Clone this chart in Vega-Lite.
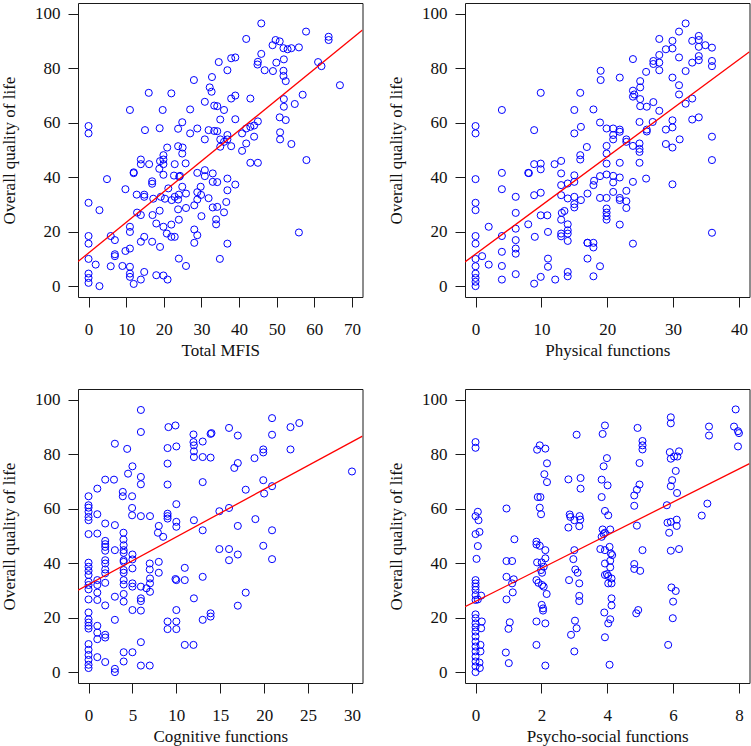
{
"$schema": "https://vega.github.io/schema/vega-lite/v6.json",
"autosize": {"type": "none"},
"padding": {"left": 78, "top": 3, "right": 673, "bottom": 743},
"background": "white",
"columns": 2,
"spacing": {"row": 92, "column": 102},
"bounds": "flush",
"config": {
  "view": {"stroke": "#1a1a1a", "strokeWidth": 1},
  "axis": {"domain": false, "grid": false, "tickColor": "#1a1a1a", "tickSize": 10, "tickWidth": 1,
    "labelFont": "Liberation Serif", "labelFontSize": 17, "labelColor": "#111111", "labelPadding": 8,
    "labelOverlap": false, "labelFlush": false,
    "titleFont": "Liberation Serif", "titleFontSize": 17, "titleFontWeight": "normal", "titleColor": "#111111"},
  "axisX": {"labelPadding": 14, "titlePadding": 5},
  "axisY": {"labelAngle": 0, "titlePadding": 16},
  "point": {"opacity": 1}
},
"datasets": {
  "tl": [[0,58.8],[0,56.1],[28,75.7],[32.8,76.8],[32.2,73],[32.7,71.4],[16,71],[22,70.8],[11,64.7],[19.7,64.7],[27,64.9],[33.4,66.3],[30.9,67.7],[24.9,60.2],[15,57.3],[18.9,58],[23.8,57.8],[28.9,57.9],[27,56.1],[31.9,57.3],[33.4,57],[30.9,53.9],[20.9,50.9],[23.8,51.4],[25,50.9],[24.9,48.7],[19.9,48.1],[19.9,46.5],[19,45.9],[19.9,44.8],[13.9,46.5],[13.9,44.8],[16.1,44.8],[12,41.5],[12,41.8],[22.9,44.8],[25.8,45.1],[18.8,43.1],[19.9,40.9],[22.7,40.6],[24.1,40.2],[24.3,40.5],[28.9,41.6],[30.9,42.6],[30.9,40.4],[33,41.4],[4.9,39.3],[16.9,38.5],[16.9,37.6],[9.8,35.6],[21.2,35.9],[24.9,36.5],[29.8,36.5],[33,38.3],[12.8,33.6],[14.8,33.6],[14.8,32.8],[17.2,32.1],[19.2,32.8],[20.3,32.1],[22.9,32.8],[24,33.6],[25.9,34],[23.8,31.8],[22.1,31.6],[28.9,34.5],[29.9,33.5],[28.9,31.8],[31.9,32.3],[0,30.6],[2.9,27.9],[12.9,27],[13.9,26.1],[18.9,27.7],[17,26.1],[23.8,28.2],[25.9,28.7],[28.1,29.7],[30,25.7],[33,28.9],[11,21.8],[11,19.9],[18,23],[19.9,21.8],[22,22.6],[24,24.4],[20.8,19.3],[22,18.1],[22.9,18.1],[0,18.4],[0,15.6],[5.9,18.4],[7,16.9],[14.8,18.1],[13.9,16.3],[16.9,16.3],[19,14.4],[28.1,20.8],[28.9,18.7],[28.1,15.9],[9.8,12.9],[11,13.8],[7,11.7],[7,11],[0,10],[1.9,7.9],[5.9,7.3],[9,7.4],[11,7.1],[11,4.6],[11,3.4],[12,0.8],[13.9,2.4],[14.8,5.2],[18,4],[19.9,3.9],[21,2.4],[24,10.1],[25.9,7.4],[0,4.6],[0,3],[0,1.2],[2.9,0],
    [45.9,96.5],[41.9,90.8],[57.8,93.5],[63.8,91.6],[63.8,90.4],[49.7,90.4],[50.8,89.9],[48.9,88.5],[51.8,87.4],[52.9,87],[53.9,87.4],[55.9,87.7],[37.9,83.7],[39,84],[34.6,82.3],[45.9,85.3],[45,82.4],[44.9,81.4],[49.9,82.1],[51.9,83.3],[36.9,79.3],[46.8,79.3],[49,79],[51.8,79.1],[51.8,77.2],[52.4,75.3],[61,82.3],[61.9,80.8],[66.8,73.8],[37.9,68.9],[39,70],[43,68.9],[34.2,66.1],[36,64.7],[35,61.2],[39,61.3],[51.9,68.7],[51.9,65.9],[54.8,66.9],[56.9,70.3],[50.8,62],[52.4,61],[34.2,56.9],[35,53.9],[36.9,55.5],[35,51.2],[36.9,53.9],[37.9,51.4],[36,53],[40.8,56.1],[41.9,57.9],[43,58.5],[44,59],[45,60.5],[44,54.9],[41.9,52.4],[40.8,49.7],[50.9,56.5],[50.9,53.9],[53.9,52.2],[43,45.3],[45,45.3],[57.9,46.3],[34.2,38.2],[36.9,39.5],[36.9,35.2],[39,37.3],[34.2,29.1],[36,27.1],[36.6,30.9],[33.9,24.5],[33.9,22.7],[36.9,15.6],[34.9,10],[55.9,19.7]],
  "tr": [[0,58.8],[0,56.1],[0,39.3],[0,30.6],[0,27.9],[0,18.4],[0,15.6],[0,10],[1,11],[0,7.3],[0,4.6],[0,3],[0,1.6],[0,0],[2,21.8],[2,7.9],[4,64.7],[4,41.6],[4,35.6],[4,18.4],[4,12.6],[4,7.4],[4,2.4],[6.1,32.8],[6.1,26.9],[6.1,21.1],[6.1,16.9],[6.1,13.8],[6.1,11.9],[6.1,4.4],[8,41.6],[8.1,41.5],[8,22.7],[8.9,57.3],[8.9,44.8],[8.9,33.4],[9,18.1],[8.9,0.9],[9.9,71],[9.9,45],[9.9,42.9],[9.9,34.3],[9.9,26],[10.9,26],[11,19.9],[11,10.1],[11,7.1],[9.9,3.4],[12,44.8],[12.1,2.4],[13,46],[13,41.4],[13,37.1],[13,33.4],[13.1,26.9],[13,24.4],[13,19.3],[13,18.3],[14,16.6],[13.5,27.6],[14,37.7],[14,32.2],[14,22.7],[14,20.5],[14,19.3],[14,5.2],[14,3.6],[15,64.7],[15,56.1],[15,40.7],[15,38.3],[15,32.8],[15,30.1],[15,28.9],[16,58.5],[15.9,71],[15.9,48.1],[15.9,46.5],[16,31.6],[16.9,51.1],[17,34],[17,15.9],[17,10.1],
    [31.9,96.5],[30.9,93.5],[27.9,90.8],[29.9,90.1],[29.9,87.3],[28.9,87],[32.9,90.1],[33.9,91.9],[33.9,90.4],[33.9,87.9],[34.9,88.5],[35.9,87.6],[27.9,84.9],[27,82.7],[27,81.6],[27.9,82.1],[30.9,84],[33.9,84.5],[33.9,83],[32.9,82.1],[35.9,82.7],[35.9,80.8],[23.9,83.4],[19,79.1],[19,75.7],[21.9,76.6],[25.9,78.7],[27.9,79.3],[31.9,79],[25,75.3],[25,73],[23.9,71.8],[23.9,69.6],[24.1,70.4],[25,68.7],[25,66.1],[26,65.9],[27,67.6],[29.9,76.6],[30.9,73.8],[30.9,70.4],[31.9,67],[32.9,68.9],[27.9,64.4],[17.9,64.9],[18.9,60.1],[19.9,57.9],[20.9,57.9],[21.9,57.5],[20.9,55.5],[20.9,53.9],[21.9,56.7],[22.9,53.9],[22.9,53],[24.9,60.3],[26,57.5],[26,56.8],[26.9,60.3],[28.9,57.5],[29.9,60.9],[29.9,58.3],[28.9,52.2],[29.9,50.9],[31,53.9],[32.9,61.2],[33.9,62],[35.9,54.9],[35.9,46.3],[35.9,19.6],[19.9,51.5],[19.9,48.7],[23.9,51.5],[24.9,52.4],[24.9,50.4],[24.9,49.3],[19.9,45],[21.9,45.3],[24.9,45.3],[18.9,40.4],[19.9,41],[20.9,40.5],[21.9,39.9],[20.9,38.1],[18,38.7],[17.9,37.1],[23.9,38.3],[25.9,39.5],[29.9,37.4],[20.9,34.6],[22.9,35],[18.9,32.4],[19.9,32.4],[21.9,32.4],[21.9,31.6],[22.9,31.2],[22.9,28.7],[19.9,28.5],[19.9,27],[19.9,25.7],[19.9,24.4],[21.9,22.6],[17,15.9],[17.9,15.9],[17.9,14.2],[23.9,15.6],[18.9,7.3],[17.9,3.6]],
  "bl": [[5.96,96.3],[5.96,88.2],[9.1,90],[9.9,90.6],[3,83.9],[4.4,82],[9,82.3],[10,82.9],[11.95,87.3],[11.95,84.5],[12,83.3],[12,81.1],[12,79],[13,84.7],[13.9,87.5],[13,79],[13.9,78.8],[9,76.6],[5,75.6],[4.5,72.9],[5.96,71.7],[5.96,69],[9,68.9],[13,69.8],[1,67.4],[1.9,70.7],[2.9,70.7],[0,64.6],[0,61.3],[0,60.4],[0,58.9],[0,57],[0,55.8],[1,58],[3.9,66.2],[3.9,64.6],[4.96,64.6],[4.96,60.3],[4.96,57.6],[5.96,57.3],[7,57.3],[10,61.7],[9,58.2],[9,57.3],[9,56.4],[10,55.2],[10,53.4],[12,55.8],[13,52.1],[1.9,54.6],[3,54],[8,53.7],[7.9,51.2],[8.5,49.7],[0,50.7],[1,50.9],[1.9,48.2],[1.9,47],[1.9,46],[1.9,44.6],[3,44.8],[3.98,51.2],[3.98,48.7],[4,46.6],[4,44.8],[4,43.8],[5,43.2],[5,41.4],[0,40.2],[0,38.7],[0,37.2],[0,35.7],[1.9,41.1],[1.9,39.9],[1.9,37.7],[1.9,36.3],[4,41.1],[4,40.5],[4,37.5],[4,36.5],[5,38.1],[6.97,39.9],[6.97,37.7],[8,40.5],[8,36.5],[10.96,38.3],[9.9,34.2],[10,33.8],[10.96,33.8],[13,35],[0,33.2],[0,32],[0,30.4],[1,33.8],[1,32],[1.9,32.8],[4,33.8],[4,32.2],[5,32.6],[5,31.4],[5.96,31.4],[6.6,30.8],[7,34.4],[7,32.6],[7,29.5],[0,26.7],[1,29.2],[1,26.5],[1.9,24.5],[3,27.7],[4,28.7],[4,25.9],[5.96,27.1],[5.96,26.1],[5,22.8],[5.96,22.6],[10,22.8],[12,27.1],[0,21.9],[0,19.4],[0,18.2],[0,17],[0,16],[1,17],[1,14.5],[1,12.1],[1.9,13.7],[1.9,12.7],[3,19.2],[9,18.6],[9,15.8],[10,18.6],[10,15.8],[13,19.2],[13.9,20.4],[13.9,21.6],[10.96,10],[11.95,10],[5.96,11],[0,10.3],[0,8.2],[0,6.3],[0,4.5],[0,2.7],[0,1.5],[1,5.5],[1.9,3.7],[3,1.2],[3,0],[4,7.3],[4,3.9],[5,7.3],[5.96,2.4],[6.97,2.4],
    [20.9,93.3],[23,90],[24,91.5],[16,89.7],[14,87.8],[17,86.9],[20.9,87.2],[19.9,81.8],[19.9,80.7],[18.9,78.6],[23,81.8],[17,76.8],[16.6,75],[30,73.7],[19.9,70.5],[20.9,68.3],[20,65.6],[17.9,67],[14.9,59.1],[16,60.3],[17,53.7],[19,56.2],[20.9,52.1],[14.9,45.2],[16,45.2],[16,41.1],[17,43.2],[19.9,46.4],[20.9,41.5],[17.9,29.2],[17,24.4]],
  "br": [[0,84.5],[0,82.4],[0.07,58.9],[0,57.3],[0.09,55.8],[0,50.7],[0.12,51.5],[0.07,46.3],[0.03,41.6],[0,33.8],[0,32.6],[0,31.4],[0,30.2],[0,28.3],[0,26.5],[0.17,28.1],[0.07,26.7],[0,21.2],[0,19.8],[0,17.9],[0,16.5],[0,14.9],[0,13.1],[0,11.2],[0,9.4],[0,7.6],[0,5.7],[0,3.9],[0,2.1],[0,0],[0.19,18.6],[0.17,16.1],[0.15,10],[0.15,7.6],[0.12,3.5],[0.13,1.5],[0.94,60.1],[0.94,40.8],[1.11,40.8],[0.94,35],[0.94,26.7],[1.18,48.8],[1.16,34.1],[1.11,32.6],[1.13,29.3],[1.04,18.3],[1,15.9],[0.92,7.2],[1.01,3.3],[1.95,83.3],[1.87,81.7],[2.12,82.1],[2.17,76.7],[2.09,72.7],[2.17,69.8],[1.89,64.3],[1.97,64.3],[1.95,60.4],[1.99,58],[1.85,47.9],[1.85,46.9],[1.95,46.4],[2.12,44.8],[2.12,41.8],[1.87,40.3],[2.01,40.3],[2.07,38.7],[1.99,37.5],[2.02,36.5],[1.85,33.8],[1.91,32.8],[2.02,32],[2.07,31.4],[2.16,28.7],[2.01,24.7],[2.05,23.4],[2.05,22.6],[1.85,18.6],[2.12,17.9],[1.85,10],[2.12,2.4],[3.07,87.2],[2.82,70.8],[3.19,71.3],[3.19,67.4],[2.86,57.9],[2.88,57],[3,55.8],[3.16,57.3],[3.18,56],[2.82,53.1],[3.15,53.6],[3,44.8],[2.97,41.5],[3.03,37.7],[3.1,36.5],[3.15,32.6],[3.15,28],[3.15,26.1],[2.84,33.8],[3.02,18.9],[3.07,16.1],[2.9,13.7],[3,7.6],
    [3.93,90.6],[3.86,87.5],[3.99,78.6],[3.89,75.6],[3.83,70.7],[4.01,68.6],[3.83,64.3],[3.93,59.2],[4.03,57.6],[3.86,52.4],[3.93,51.2],[4.09,52.4],[3.83,49.7],[3.89,50.7],[3.79,45.2],[3.93,44.8],[4.07,46],[4.11,43.6],[4.15,43],[3.93,39.9],[4.09,40.9],[4.09,38.5],[3.99,36],[4.03,35.3],[4.13,34.4],[4.13,32.6],[4.03,32.6],[3.93,35.7],[4.13,27.1],[4.13,24.5],[3.91,21.9],[4.09,19.4],[4.03,17.9],[3.93,12.8],[4.07,2.7],[4.92,89.7],[5.07,84.9],[5.07,83.3],[5.07,81.8],[4.98,76.8],[4.98,68.9],[4.9,67],[4.82,64.9],[4.82,61.1],[4.9,53.8],[5.07,44.8],[4.82,39.7],[4.82,37.9],[5,37.2],[4.94,22.8],[4.88,21.6],[5.93,93.6],[5.93,91.4],[5.9,80.8],[6.03,79.2],[6.18,81.1],[6.13,79.2],[5.93,78.4],[6.08,73.9],[5.97,70.5],[5.93,68.3],[6.12,65.8],[5.81,61.3],[5.83,54.9],[5.93,55.2],[6.11,56],[6.11,53.7],[5.88,51.2],[5.93,44.6],[6.18,45.2],[5.95,31.1],[6.08,29.8],[6,25.9],[5.99,19.8],[5.85,10],[7.09,90.2],[7.09,86.9],[7.04,61.9],[6.87,57.5],[7.9,96.5],[7.85,90.2],[7.97,88.5],[8,87.8],[7.97,82.9]]
},
"concat": [
  {"width": 284.5, "height": 294,
   "layer": [
    {"data": {"name": "tl"}, "mark": {"type": "point", "shape": "circle", "filled": false, "color": "#0000ff", "opacity": 1, "size": 50, "strokeWidth": 1},
     "encoding": {"x": {"field": "0", "type": "quantitative", "scale": {"domain": [-2.8, 72.8], "nice": false, "zero": false}, "axis": {"values": [0,10,20,30,40,50,60,70], "title": "Total MFIS"}},
                  "y": {"field": "1", "type": "quantitative", "scale": {"domain": [-4, 104], "nice": false, "zero": false}, "axis": {"values": [0,20,40,60,80,100], "title": "Overall quality of life"}}}},
    {"data": {"values": [{"x": -2.8, "y": 9.0}, {"x": 72.8, "y": 94.1}]}, "mark": {"type": "line", "color": "#ff0000", "strokeWidth": 1.3, "clip": true},
     "encoding": {"x": {"field": "x", "type": "quantitative"}, "y": {"field": "y", "type": "quantitative"}}}
   ]},
  {"width": 284.5, "height": 294,
   "layer": [
    {"data": {"name": "tr"}, "mark": {"type": "point", "shape": "circle", "filled": false, "color": "#0000ff", "opacity": 1, "size": 50, "strokeWidth": 1},
     "encoding": {"x": {"field": "0", "type": "quantitative", "scale": {"domain": [-1.6, 41.6], "nice": false, "zero": false}, "axis": {"values": [0,10,20,30,40], "title": "Physical functions"}},
                  "y": {"field": "1", "type": "quantitative", "scale": {"domain": [-4, 104], "nice": false, "zero": false}, "axis": {"values": [0,20,40,60,80,100], "title": "Overall quality of life"}}}},
    {"data": {"values": [{"x": -1.6, "y": 8.9}, {"x": 41.6, "y": 86.1}]}, "mark": {"type": "line", "color": "#ff0000", "strokeWidth": 1.3, "clip": true},
     "encoding": {"x": {"field": "x", "type": "quantitative"}, "y": {"field": "y", "type": "quantitative"}}}
   ]},
  {"width": 284.5, "height": 294,
   "layer": [
    {"data": {"name": "bl"}, "mark": {"type": "point", "shape": "circle", "filled": false, "color": "#0000ff", "opacity": 1, "size": 50, "strokeWidth": 1},
     "encoding": {"x": {"field": "0", "type": "quantitative", "scale": {"domain": [-1.2, 31.2], "nice": false, "zero": false}, "axis": {"values": [0,5,10,15,20,25,30], "title": "Cognitive functions"}},
                  "y": {"field": "1", "type": "quantitative", "scale": {"domain": [-4, 104], "nice": false, "zero": false}, "axis": {"values": [0,20,40,60,80,100], "title": "Overall quality of life"}}}},
    {"data": {"values": [{"x": -1.2, "y": 30.1}, {"x": 31.2, "y": 86.7}]}, "mark": {"type": "line", "color": "#ff0000", "strokeWidth": 1.3, "clip": true},
     "encoding": {"x": {"field": "x", "type": "quantitative"}, "y": {"field": "y", "type": "quantitative"}}}
   ]},
  {"width": 284.5, "height": 294,
   "layer": [
    {"data": {"name": "br"}, "mark": {"type": "point", "shape": "circle", "filled": false, "color": "#0000ff", "opacity": 1, "size": 50, "strokeWidth": 1},
     "encoding": {"x": {"field": "0", "type": "quantitative", "scale": {"domain": [-0.32, 8.32], "nice": false, "zero": false}, "axis": {"values": [0,2,4,6,8], "title": "Psycho-social functions"}},
                  "y": {"field": "1", "type": "quantitative", "scale": {"domain": [-4, 104], "nice": false, "zero": false}, "axis": {"values": [0,20,40,60,80,100], "title": "Overall quality of life"}}}},
    {"data": {"values": [{"x": -0.32, "y": 24.0}, {"x": 8.32, "y": 76.6}]}, "mark": {"type": "line", "color": "#ff0000", "strokeWidth": 1.3, "clip": true},
     "encoding": {"x": {"field": "x", "type": "quantitative"}, "y": {"field": "y", "type": "quantitative"}}}
   ]}
]
}
